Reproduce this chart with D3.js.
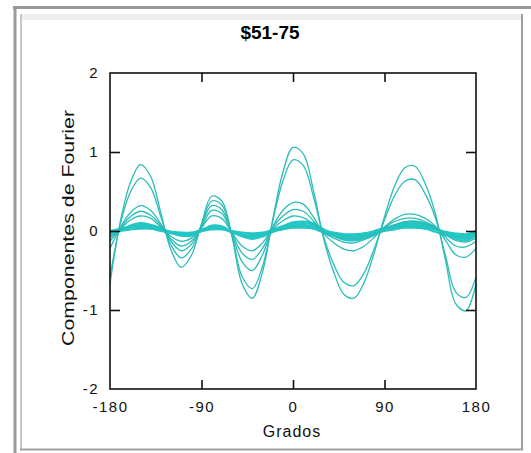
<!DOCTYPE html>
<html><head><meta charset="utf-8">
<script src="https://cdn.jsdelivr.net/npm/d3@7"></script>
<style>body{margin:0;background:#fff}svg{display:block}</style>
</head><body>
<script>
const titleText = "$51-75";
const xLabel = "Grados";
const yLabel = "Componentes de Fourier";
const xTicks = [-180, -90, 0, 90, 180];
const yTicks = [-2, -1, 0, 1, 2];
const grados = [-180,-170,-160,-150,-140,-130,-120,-110,-100,-90,-80,-70,-60,-50,-40,-30,-20,-10,0,10,20,30,40,50,60,70,80,90,100,110,120,130,140,150,160,170,180];
const serieA = [-0.67,0.11,0.61,0.84,0.69,0.23,-0.24,-0.46,-0.31,0.09,0.44,0.38,-0.07,-0.67,-0.85,-0.52,0.14,0.74,1.06,0.98,0.52,-0.09,-0.52,-0.80,-0.85,-0.65,-0.27,0.18,0.57,0.80,0.82,0.60,0.22,-0.37,-0.92,-1.01,-0.67];
const serieB = [-0.58,0.08,0.49,0.67,0.55,0.18,-0.18,-0.34,-0.23,0.08,0.38,0.33,-0.06,-0.58,-0.73,-0.45,0.12,0.63,0.90,0.83,0.44,-0.07,-0.42,-0.65,-0.69,-0.53,-0.22,0.14,0.45,0.63,0.65,0.47,0.17,-0.31,-0.77,-0.84,-0.58];
const serieC = [-0.22,0.04,0.23,0.32,0.26,0.09,-0.13,-0.25,-0.17,0.07,0.32,0.27,-0.04,-0.39,-0.50,-0.30,0.05,0.26,0.36,0.34,0.18,-0.03,-0.15,-0.23,-0.25,-0.19,-0.08,0.05,0.15,0.21,0.21,0.16,0.06,-0.12,-0.30,-0.33,-0.22];
const serieD = [-0.13,0.03,0.18,0.25,0.20,0.07,-0.10,-0.19,-0.13,0.05,0.26,0.22,-0.03,-0.28,-0.36,-0.22,0.04,0.19,0.27,0.25,0.13,-0.02,-0.09,-0.14,-0.15,-0.11,-0.05,0.04,0.12,0.16,0.16,0.12,0.04,-0.08,-0.19,-0.20,-0.13];
const serieE = [-0.09,0.02,0.14,0.19,0.16,0.05,-0.07,-0.13,-0.09,0.04,0.19,0.16,-0.02,-0.19,-0.25,-0.15,0.02,0.13,0.19,0.17,0.09,-0.01,-0.06,-0.09,-0.10,-0.08,-0.03,0.03,0.08,0.12,0.12,0.09,0.03,-0.05,-0.12,-0.14,-0.09];
const serieF1 = [-0.02,0.00,0.02,0.03,0.03,0.01,-0.01,-0.02,-0.02,0.00,0.02,0.02,0.00,-0.02,-0.03,-0.02,0.00,0.02,0.04,0.04,0.03,0.01,-0.02,-0.04,-0.04,-0.03,-0.02,0.00,0.02,0.04,0.04,0.03,0.02,-0.01,-0.03,-0.04,-0.02];
const serieF2 = [-0.03,0.01,0.04,0.05,0.04,0.02,-0.01,-0.03,-0.03,0.00,0.04,0.03,-0.01,-0.04,-0.05,-0.04,-0.01,0.03,0.05,0.06,0.05,0.01,-0.03,-0.05,-0.06,-0.05,-0.02,0.01,0.04,0.05,0.06,0.05,0.02,-0.02,-0.05,-0.06,-0.03];
const serieF3 = [-0.04,0.01,0.05,0.06,0.06,0.02,-0.02,-0.04,-0.04,0.00,0.05,0.04,-0.01,-0.05,-0.06,-0.05,-0.01,0.04,0.07,0.08,0.06,0.02,-0.04,-0.07,-0.08,-0.06,-0.03,0.01,0.05,0.07,0.08,0.06,0.03,-0.02,-0.06,-0.08,-0.04];
const serieF4 = [-0.05,0.01,0.06,0.08,0.07,0.03,-0.02,-0.05,-0.05,0.00,0.06,0.05,-0.01,-0.06,-0.08,-0.06,-0.01,0.05,0.09,0.10,0.08,0.02,-0.05,-0.09,-0.10,-0.08,-0.04,0.01,0.06,0.09,0.10,0.08,0.04,-0.03,-0.08,-0.10,-0.05];
const serieF5 = [-0.06,0.01,0.07,0.10,0.08,0.04,-0.02,-0.06,-0.06,0.00,0.07,0.06,-0.01,-0.07,-0.10,-0.07,-0.01,0.06,0.11,0.12,0.10,0.02,-0.06,-0.11,-0.12,-0.10,-0.05,0.01,0.07,0.11,0.12,0.10,0.05,-0.04,-0.10,-0.12,-0.06];
const serieF6 = [0.00,0.03,0.05,0.05,0.03,0.00,-0.03,-0.05,-0.03,0.02,0.05,0.03,-0.02,-0.05,-0.06,-0.03,0.02,0.06,0.07,0.06,0.03,-0.02,-0.06,-0.07,-0.06,-0.03,0.00,0.04,0.06,0.07,0.06,0.03,-0.01,-0.05,-0.07,-0.05,0.00];

const thinSeries = [serieA, serieB, serieC, serieD, serieE];
const bundleSeries = [serieF1, serieF2, serieF3, serieF4, serieF5, serieF6];

const W = 531, H = 453;
const svg = d3.select("body").append("svg").attr("width", W).attr("height", H);
const font = "'Liberation Sans', Arial, sans-serif";

// frame
svg.append("rect").attr("x",0).attr("y",0).attr("width",W).attr("height",H).attr("fill","#fff");
svg.append("rect").attr("x",20).attr("y",14).attr("width",502).attr("height",6).attr("fill","#eeeeee");
svg.append("line").attr("x1",13).attr("x2",W).attr("y1",7.5).attr("y2",7.5).attr("stroke","#9a9a9a").attr("stroke-width",3);
svg.append("line").attr("x1",15).attr("x2",15).attr("y1",6).attr("y2",H).attr("stroke","#9a9a9a").attr("stroke-width",3);
svg.append("line").attr("x1",21).attr("x2",21).attr("y1",14).attr("y2",450).attr("stroke","#c8c8c8").attr("stroke-width",2);
svg.append("line").attr("x1",522).attr("x2",522).attr("y1",14).attr("y2",450).attr("stroke","#a0a0a0").attr("stroke-width",2);
svg.append("line").attr("x1",20).attr("x2",523).attr("y1",449.5).attr("y2",449.5).attr("stroke","#a0a0a0").attr("stroke-width",2);

const x = d3.scaleLinear().domain([-180,180]).range([110,476]);
const y = d3.scaleLinear().domain([-2,2]).range([389,73]);

const line = d3.line().x((d,i)=>x(grados[i])).y(d=>y(d)).curve(d3.curveCatmullRom.alpha(0.5));
const g = svg.append("g");
bundleSeries.forEach(s => g.append("path").attr("d", line(s)).attr("fill","none").attr("stroke","#22c6c3").attr("stroke-width",2));
thinSeries.forEach(s => g.append("path").attr("d", line(s)).attr("fill","none").attr("stroke","#2cbcb8").attr("stroke-width",1.3));

// axes box
svg.append("rect").attr("x",x(-180)).attr("y",y(2)).attr("width",x(180)-x(-180)).attr("height",y(-2)-y(2))
  .attr("fill","none").attr("stroke","#111").attr("stroke-width",1.6);

const inner = [-90,0,90];
const yInner = [-1,0,1];
const axB = d3.axisBottom(x).tickValues(xTicks).tickSizeInner(-9).tickSizeOuter(0).tickPadding(12).tickFormat(d=>d);
const gb = svg.append("g").attr("transform",`translate(0,${y(-2)})`).call(axB);
const axT = d3.axisTop(x).tickValues(inner).tickSizeInner(-9).tickSizeOuter(0).tickFormat("");
const gt = svg.append("g").attr("transform",`translate(0,${y(2)})`).call(axT);
const axL = d3.axisLeft(y).tickValues(yTicks).tickSizeInner(0).tickSizeOuter(0).tickPadding(11).tickFormat(d=>d);
const gl = svg.append("g").attr("transform",`translate(${x(-180)},0)`).call(axL);
const axL2 = d3.axisLeft(y).tickValues(yInner).tickSizeInner(-10).tickSizeOuter(0).tickFormat("");
const gl2 = svg.append("g").attr("transform",`translate(${x(-180)},0)`).call(axL2);
const axR = d3.axisRight(y).tickValues(yInner).tickSizeInner(-10).tickSizeOuter(0).tickFormat("");
const gr = svg.append("g").attr("transform",`translate(${x(180)},0)`).call(axR);
gb.selectAll(".tick line").filter(d=>d===-180||d===180).remove();
[gb,gt,gl,gl2,gr].forEach(a=>{
  a.select(".domain").remove();
  a.selectAll(".tick line").attr("stroke","#111").attr("stroke-width",1.6);
  a.selectAll("text").attr("font-family",font).attr("font-size",15).attr("fill","#111").attr("letter-spacing",1.5);
});

svg.append("text").attr("x",270).attr("y",39).attr("text-anchor","middle").attr("font-family",font)
  .attr("font-weight","bold").attr("font-size",19).attr("fill","#000").text(titleText);
svg.append("text").attr("x",292).attr("y",437).attr("text-anchor","middle").attr("font-family",font)
  .attr("font-size",16).attr("fill","#111").attr("letter-spacing",1).text(xLabel);
svg.append("text").attr("transform","translate(74,228) rotate(-90)").attr("text-anchor","middle").attr("font-family",font)
  .attr("font-size",16).attr("fill","#111").attr("textLength",236).attr("lengthAdjust","spacingAndGlyphs").text(yLabel);
</script>
</body></html>
